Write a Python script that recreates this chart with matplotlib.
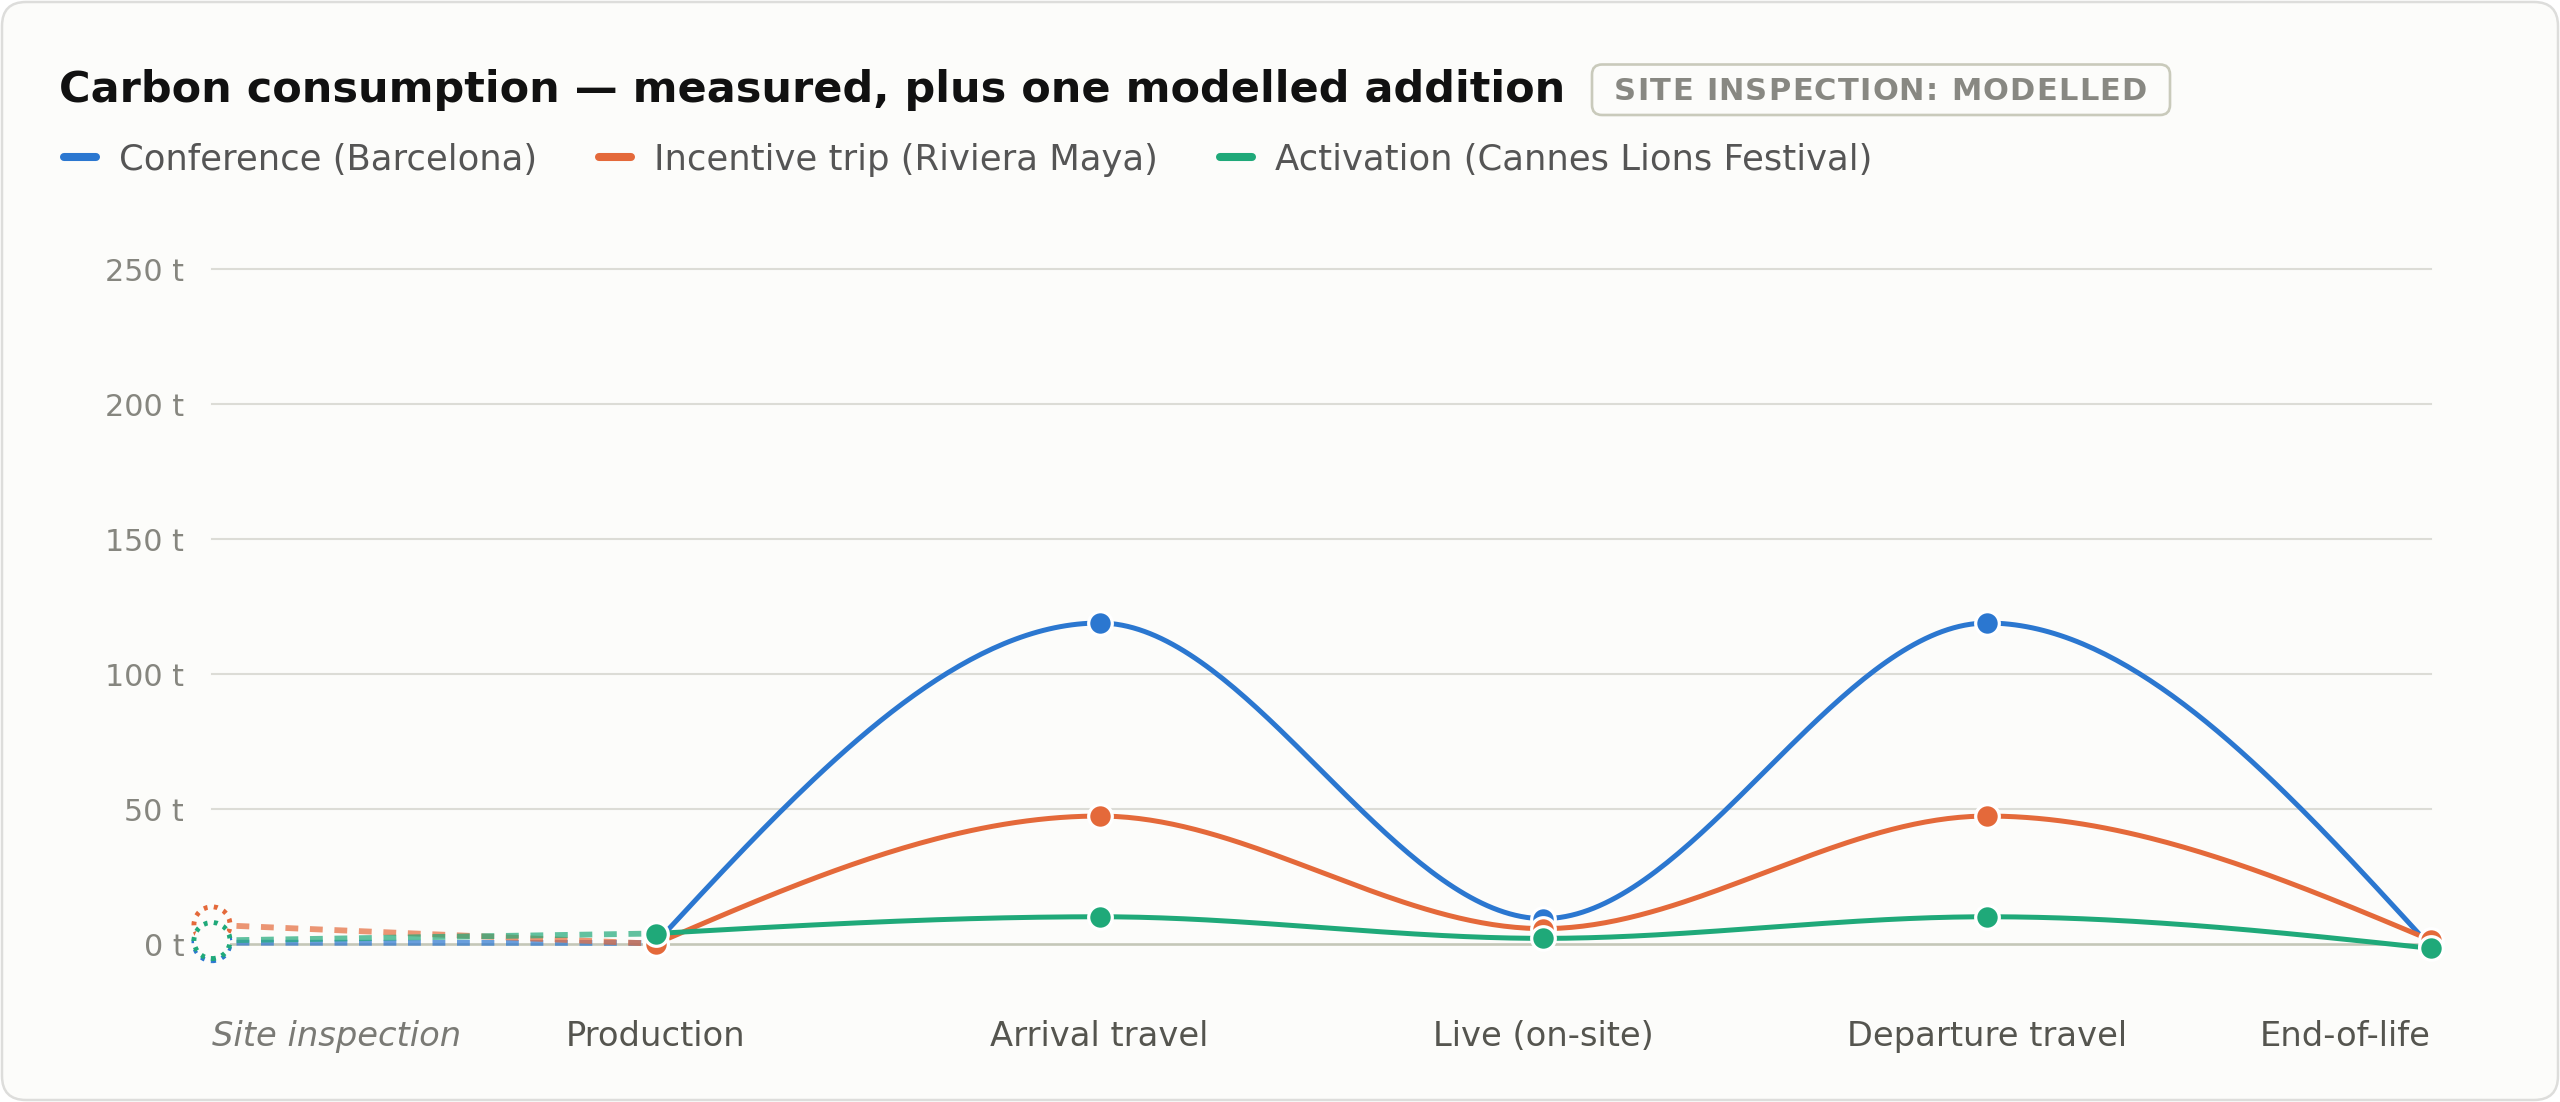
#!/usr/bin/env python3

import numpy as np
import matplotlib
matplotlib.use("Agg")
import matplotlib.pyplot as plt
from matplotlib.patches import FancyBboxPatch
from matplotlib.transforms import blended_transform_factory


W, H = 2560, 1102

stages = ["Site inspection", "Production", "Arrival travel", "Live (on-site)",
          "Departure travel", "End-of-life"]
series_names = ["Conference (Barcelona)", "Incentive trip (Riviera Maya)",
                "Activation (Cannes Lions Festival)"]
conference = [0.6, 0.5, 119.0, 9.5, 119.0, -1.0]
incentive = [7.2, 0.2, 47.5, 5.8, 47.5, 1.5]
activation = [1.4, 4.0, 10.2, 2.2, 10.2, -1.5]
y_ticks = [0, 50, 100, 150, 200, 250]
y_labels = [f"{v} t" for v in y_ticks]

title = "Carbon consumption \u2014 measured, plus one modelled addition"
badge = "SITE INSPECTION: MODELLED"

colors = ["#2b77d0", "#e4693a", "#1fa979"]
bg_col = "#fcfcfa"


def monotone_x(xs, ys, n=80):
	# same idea as d3 curveMonotoneX
	xs = np.asarray(xs, float)
	ys = np.asarray(ys, float)
	h = np.diff(xs)
	s = np.diff(ys) / h
	m = np.zeros(len(xs))
	for i in range(1, len(xs) - 1):
		p = (s[i-1] * h[i] + s[i] * h[i-1]) / (h[i-1] + h[i])
		m[i] = (np.sign(s[i-1]) + np.sign(s[i])) * min(abs(s[i-1]), abs(s[i]), 0.5 * abs(p))
	m[0] = (3 * s[0] - m[1]) / 2
	m[-1] = (3 * s[-1] - m[-2]) / 2
	px, py = [], []
	t = np.linspace(0, 1, n)
	for i in range(len(xs) - 1):
		h00 = 2*t**3 - 3*t**2 + 1
		h10 = t**3 - 2*t**2 + t
		h01 = -2*t**3 + 3*t**2
		h11 = t**3 - t**2
		px.append(xs[i] + t * h[i])
		py.append(h00*ys[i] + h10*h[i]*m[i] + h01*ys[i+1] + h11*h[i]*m[i+1])
	return np.concatenate(px), np.concatenate(py)


def main():
	fig = plt.figure(figsize=(W / 100, H / 100), dpi=100, facecolor="white")

	# overlay in pixel units for card, title, badge, legend
	bg = fig.add_axes([0, 0, 1, 1], zorder=0)
	bg.set_xlim(0, W)
	bg.set_ylim(H, 0)
	bg.axis("off")
	bg.add_patch(FancyBboxPatch((2, 2), W - 4, H - 4,
		boxstyle="round,pad=0,rounding_size=24", fc=bg_col, ec="#dddddb", lw=1.8))

	bg.text(59, 101.7, title, fontsize=31, weight="bold", color="#111111", va="baseline")

	bg.add_patch(FancyBboxPatch((1592, 64.5), 578, 50.5,
		boxstyle="round,pad=0,rounding_size=10", fc=bg_col, ec="#c9cabb", lw=1.9))
	r = fig.canvas.get_renderer()
	kw = dict(fontsize=22, weight="bold", color="#888882", va="baseline")

	def text_w(s):
		t = bg.text(0, 0, s, **kw)
		w = t.get_window_extent(r).width
		t.remove()
		return w

	full_w = text_w(badge)
	spacing = max(0, (533 - full_w) / (len(badge) - 1))
	base = text_w("XX")
	for i, ch in enumerate(badge):
		adv = text_w("X" + badge[:i] + "X") - base
		bg.text(1614 + adv + i * spacing, 99.7, ch, **kw)

	leg_x = [60, 595, 1216]
	for x0, name, c in zip(leg_x, series_names, colors):
		bg.plot([x0 + 4, x0 + 36], [157, 157], color=c, lw=5.8, solid_capstyle="round")
		bg.text(x0 + 59, 170, name, fontsize=25.5, color="#555555", va="baseline")

	# main chart
	top, zero = 269.3, 944.3
	ax = fig.add_axes([212 / W, (H - zero) / H, (2431 - 212) / W, (zero - top) / H], zorder=1)
	ax.patch.set_visible(False)
	ax.set_xlim(0, 5)
	ax.set_ylim(0, 250)
	for sp in ax.spines.values():
		sp.set_visible(False)

	for v in y_ticks[1:]:
		ax.axhline(v, color="#dcdcd6", lw=1.5, zorder=1, clip_on=False)
	ax.axhline(0, color="#c4c7b8", lw=1.9, zorder=1.5, clip_on=False)

	ax.set_xticks([])
	ax.set_yticks(y_ticks, y_labels)
	ax.tick_params(axis="y", length=0, pad=20, labelsize=21.7, labelcolor="#86867f")

	data = [conference, incentive, activation]
	x = np.arange(len(stages))

	for vals, c in zip(data, colors):
		ax.plot(x[:2], vals[:2], color=c, lw=4.2, ls=(0, (2.2, 2.0)), alpha=0.7,
			dash_capstyle="butt", zorder=2, clip_on=False)

	for vals, c in zip(data, colors):
		cx, cy = monotone_x(x[1:], vals[1:])
		ax.plot(cx, cy, color=c, lw=3.6, solid_capstyle="round", zorder=3, clip_on=False)

	for i, (vals, c) in enumerate(zip(data, colors)):
		ax.scatter([x[0]], [vals[0]], s=26**2, facecolors=bg_col, edgecolors=c,
			linewidths=3.5, linestyle=(0, (0.8, 1.3)), zorder=4 + i * 0.1, clip_on=False)

	for i, (vals, c) in enumerate(zip(data, colors)):
		ax.plot(x[1:], vals[1:], "o", ms=17, mfc=c, mec="white", mew=2.3, ls="none",
			zorder=5 + i, clip_on=False)

	tr = blended_transform_factory(ax.transData, ax.transAxes)
	lab_y = (zero - 1046) / (zero - top)
	for i, st in enumerate(stages):
		ha = "left" if i == 0 else ("right" if i == len(stages) - 1 else "center")
		if i == 0:
			ax.text(i, lab_y, st, transform=tr, ha=ha, va="baseline", fontsize=24.3,
				color="#7a7a75", style="italic")
		else:
			ax.text(i, lab_y, st, transform=tr, ha=ha, va="baseline", fontsize=24.3,
				color="#55554f")

	fig.savefig("out.png", dpi=100, facecolor=fig.get_facecolor())


if __name__ == '__main__':
	main()
